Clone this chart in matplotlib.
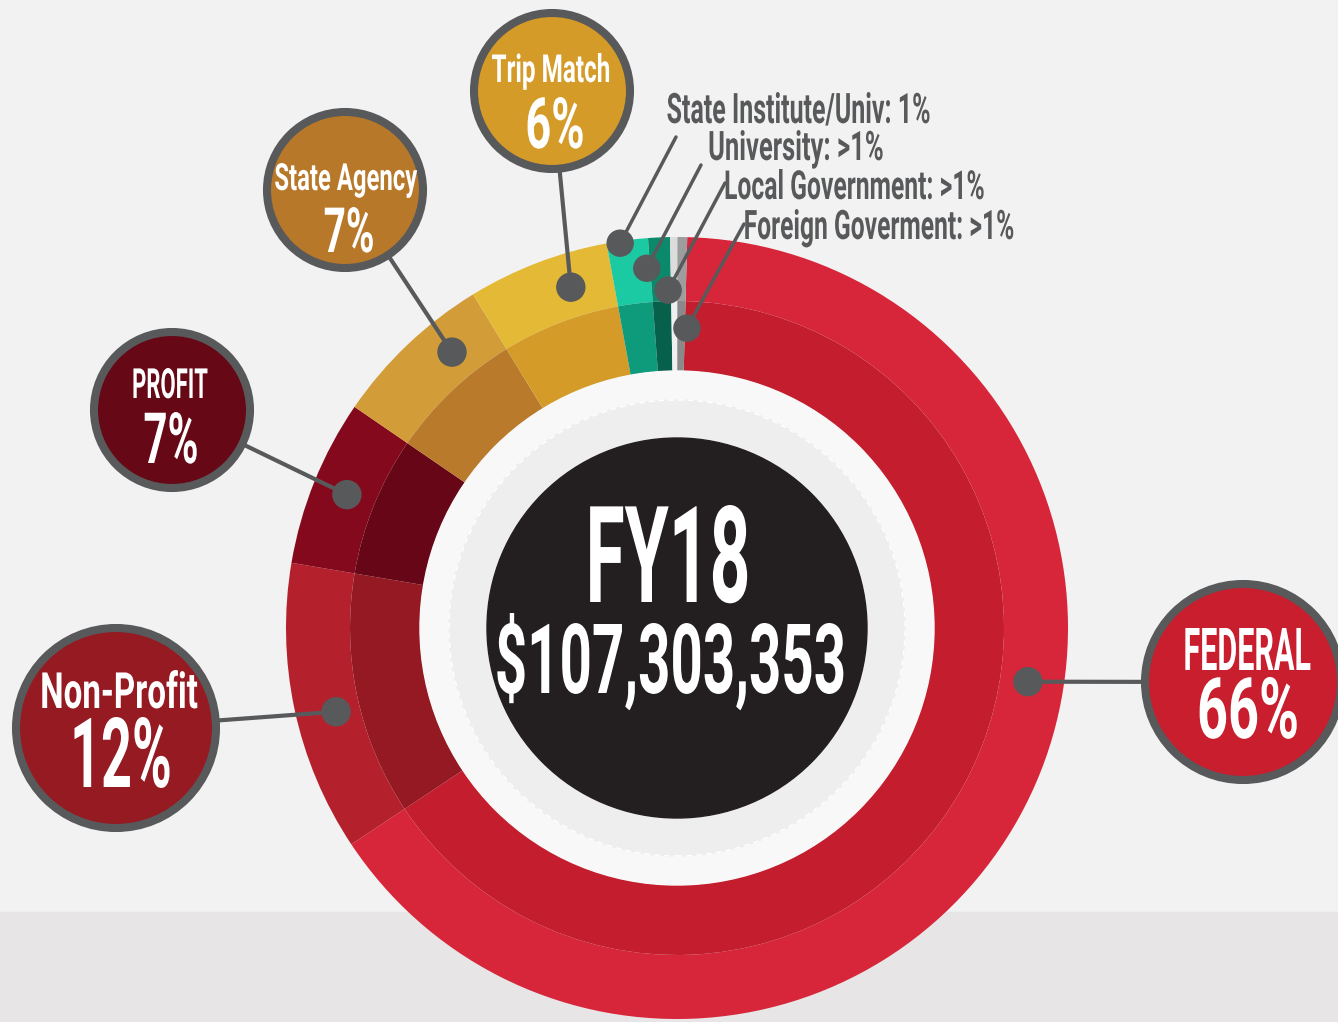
import matplotlib
matplotlib.use('Agg')
import matplotlib.pyplot as plt
import matplotlib.patheffects as pe
from matplotlib.patches import Circle, Rectangle
from matplotlib.transforms import Affine2D
from matplotlib.font_manager import FontProperties
from matplotlib.textpath import TextPath
import numpy as np

W, H = 1338, 1022

# --- data -------------------------------------------------------------
sources = ['Federal', 'Non-Profit', 'Profit', 'State Agency', 'Trip Match',
           'State Institute/Univ', 'University', 'Local Government', 'Foreign Goverment']
shares = [65.25, 12.0, 6.9, 6.7, 5.85, 1.7, 0.9, 0.3, 0.4]
outer_colors = ['#d7263a', '#b5202d', '#85091c', '#d29d38', '#e3b935',
                '#1bc9a3', '#0b8a6b', '#dcdcdc', '#9d9d9d']
inner_colors = ['#c41d2e', '#951922', '#670617', '#b97a2b', '#d49b29',
                '#0e9b7b', '#07604c', '#f0f0f0', '#8a8a8a']

bubble_titles = ['FEDERAL', 'Non-Profit', 'PROFIT', 'State Agency', 'Trip Match']
bubble_pcts = ['66%', '12%', '7%', '7%', '6%']
small_labels = ['State Institute/Univ: 1%', 'University: >1%',
                'Local Government: >1%', 'Foreign Goverment: >1%']
year_label = 'FY18'
total_label = '$107,303,353'

# --- layout (pixel coords, y down) -------------------------------------
CX, CY = 677, 628
R_OUT, R_MID, R_IN = 391, 327, 257
START = 88.5

bubble_centers = [(1243, 682), (116, 728), (172, 410), (345, 190), (552, 91)]
bubble_radii = [102, 104, 82, 82, 82]
bubble_fills = ['#c81e2e', '#951a22', '#660816', '#b8782a', '#d49b29']
bubble_dots = [(-8.7, 355), (193.8, 351), (158, 356), (129.2, 356), (107.3, 357)]
# title: (x, baseline, width, height) / pct: (x, baseline, width, height)
bubble_title_box = [(1247, 670, 125, 42), (119, 708, 155, 38), (170, 398, 74, 30),
                    (346, 190, 142, 27), (551, 82, 117, 29)]
bubble_pct_box = [(1248, 738, 97, 61), (121, 787, 95, 70), (171, 463, 52, 51),
                  (349, 252, 48, 45), (555, 148, 55, 51)]

small_dots = [(98.4, 389), (94.8, 361), (91.5, 338), (88.1, 300)]
small_ends = [(676, 137), (701, 165), (725, 183), (744, 224)]
small_box = [(799, 123, 262, 31), (796, 160, 173, 30), (854, 199, 258, 30), (879, 239, 268, 30)]

GREY = '#58595b'
FP = FontProperties(family=['Roboto', 'DejaVu Sans'], weight='bold')


def P(x, y):
    return x, H - y


def polar(ang, r):
    a = np.radians(ang)
    return CX + r * np.cos(a), (H - CY) + r * np.sin(a)


class Fit(pe.AbstractPathEffect):
    '''Scale glyphs so the ink is `width` wide and `height` tall above the baseline.'''

    def __init__(self, width, height):
        super().__init__()
        self.width = width
        self.height = height

    def draw_path(self, renderer, gc, tpath, affine, rgbFace=None):
        ext = tpath.get_extents()
        w = affine.transform_point((ext.x1, 0))[0] - affine.transform_point((ext.x0, 0))[0]
        h = affine.transform_point((0, ext.y1))[1] - affine.transform_point((0, 0))[1]
        mid = (ext.x0 + ext.x1) / 2
        fit = (Affine2D().translate(-mid, 0)
               .scale(self.width / max(w, 1e-6), self.height / max(h, 1e-6))
               .translate(mid, 0))
        renderer.draw_path(gc, tpath, fit + affine, rgbFace)


def label(ax, box, s, color='white'):
    x, base, width, height = box
    ext = TextPath((0, 0), s, size=1, prop=FP).get_extents()
    size = width / ext.width * 72 / 100
    ax.text(*P(x, base), s, ha='center', va='baseline', fontproperties=FP,
            fontsize=size, color=color, zorder=10,
            path_effects=[Fit(width, height)])


fig = plt.figure(figsize=(W / 100, H / 100), dpi=100)
fig.patch.set_facecolor('#f3f2f2')
ax = fig.add_axes([0, 0, 1, 1])

ax.add_patch(Rectangle(P(0, H), W, H - 912, color='#e7e5e5', zorder=0))

# donut, two tones
ax.pie(shares, radius=R_OUT, center=P(CX, CY), startangle=START, counterclock=False,
       colors=outer_colors, wedgeprops=dict(width=R_OUT - R_MID, linewidth=0))
ax.pie(shares, radius=R_MID, center=P(CX, CY), startangle=START, counterclock=False,
       colors=inner_colors, wedgeprops=dict(width=R_MID - R_IN, linewidth=0))

# centre discs
ax.add_patch(Circle(P(CX, CY), R_IN, color='#f8f8f8', zorder=2))
ax.add_patch(Circle(P(CX, CY), 228, color='#eeeeee', zorder=2))
ax.add_patch(Circle(P(CX, CY), 228, fill=False, ec='white', lw=1, ls=(0, (4, 3)), zorder=2))
ax.add_patch(Circle(P(CX, CY), 190, color='#231f20', zorder=3))
label(ax, (668, 602, 157, 97), year_label)
label(ax, (670, 693, 346, 80), total_label)

# bubbles
for i in range(len(bubble_titles)):
    bx, by = P(*bubble_centers[i])
    dx, dy = polar(*bubble_dots[i])
    ax.plot([dx, bx], [dy, by], color=GREY, lw=3, zorder=4, solid_capstyle='round')
    ax.add_patch(Circle((dx, dy), 14, color=GREY, zorder=5))
    ax.add_patch(Circle((bx, by), bubble_radii[i] - 4, fc=bubble_fills[i], ec=GREY,
                        lw=5.8, zorder=6))
    label(ax, bubble_title_box[i], bubble_titles[i])
    label(ax, bubble_pct_box[i], bubble_pcts[i])

# small slices
for i in range(len(small_labels)):
    dx, dy = polar(*small_dots[i])
    ex, ey = P(*small_ends[i])
    ax.plot([dx, ex], [dy, ey], color=GREY, lw=2.5, zorder=4, solid_capstyle='round')
    ax.add_patch(Circle((dx, dy), 13, color=GREY, zorder=5))
    label(ax, small_box[i], small_labels[i], color=GREY)

ax.set_xlim(0, W)
ax.set_ylim(0, H)
ax.set_aspect('equal')
ax.axis('off')

fig.savefig('out.png', dpi=100, facecolor=fig.get_facecolor())
